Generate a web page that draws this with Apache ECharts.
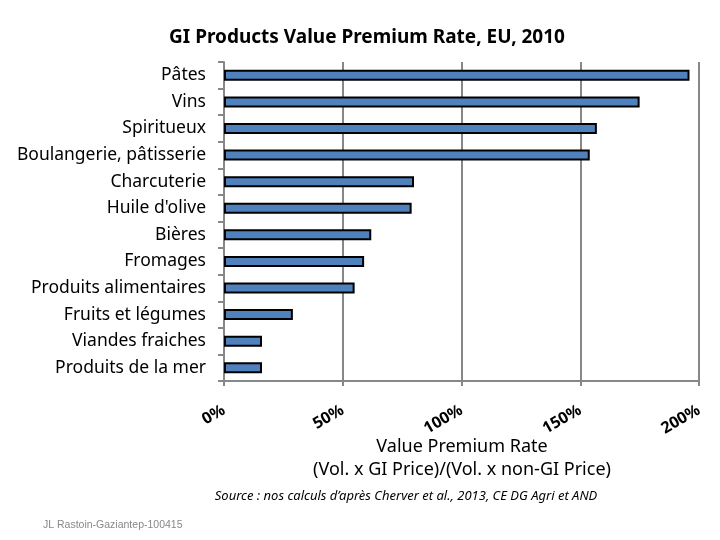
<!DOCTYPE html>
<html><head><meta charset="utf-8">
<script src="https://cdn.jsdelivr.net/npm/echarts@6/dist/echarts.min.js"></script>
<style>html,body{margin:0;padding:0;background:#fff}#c{width:720px;height:540px}</style>
</head><body><div id="c"></div>
<script>
const categories = ["Pâtes","Vins","Spiritueux","Boulangerie, pâtisserie","Charcuterie","Huile d'olive","Bières","Fromages","Produits alimentaires","Fruits et légumes","Viandes fraiches","Produits de la mer"];
const premiumRate = [196, 175, 157, 154, 80, 79, 62, 59, 55, 29, 16, 16];
const xTicks = [0, 50, 100, 150, 200];
const titleText = "GI Products Value Premium Rate, EU, 2010";
const axisTitle1 = "Value Premium Rate";
const axisTitle2 = "(Vol. x GI Price)/(Vol. x non-GI Price)";
const sourceText = "Source : nos calculs d’après Cherver et al., 2013, CE DG Agri et AND";
const authorText = "JL Rastoin-Gaziantep-100415";

const FONT = "Noto Sans";
const chart = echarts.init(document.getElementById('c'));
chart.setOption({
  animation: false,
  backgroundColor: '#fff',
  title: {text: titleText, left: 362, top: 23, textAlign: 'center',
    textStyle: {fontFamily: FONT, fontSize: 19, fontWeight: 'bold', color: '#000'}},
  grid: {left: 224, right: 21, top: 62, bottom: 159},
  xAxis: {
    type: 'value', min: xTicks[0], max: xTicks[xTicks.length-1], interval: 50,
    axisLine: {show: true, lineStyle: {color: '#878787', width: 2}},
    axisTick: {show: true, length: 5, lineStyle: {color: '#878787', width: 2}},
    splitLine: {show: true, lineStyle: {color: '#878787', width: 2}},
    axisLabel: {rotate: 30, margin: 28, formatter: v => v + '%',
      fontFamily: FONT, fontSize: 16, fontWeight: 'bold', color: '#000'}
  },
  yAxis: {
    type: 'category', data: categories, inverse: true,
    axisLine: {show: true, lineStyle: {color: '#878787', width: 2}},
    axisTick: {show: true, length: 6, lineStyle: {color: '#878787', width: 2}},
    axisLabel: {margin: 18, fontFamily: FONT, fontSize: 17.5, color: '#000'}
  },
  series: [{
    type: 'bar', data: premiumRate, barWidth: 11,
    itemStyle: {color: '#4F81BD', borderColor: '#000', borderWidth: 2}
  }],
  graphic: [
    {type: 'text', position: [462, 438], style: {text: axisTitle1, textAlign: 'center',
      font: '18px "Noto Sans"', fill: '#000'}},
    {type: 'text', position: [462, 461], style: {text: axisTitle2, textAlign: 'center', font: '18px "Noto Sans"', fill: '#000'}},
    {type: 'text', position: [406, 490], style: {text: sourceText, textAlign: 'center', font: 'italic 13px "Noto Sans"', fill: '#000'}},
    {type: 'text', position: [43, 520], style: {text: authorText, textAlign: 'left', font: '10.5px "Liberation Sans"', fill: '#888'}}
  ]
});
</script></body></html>
